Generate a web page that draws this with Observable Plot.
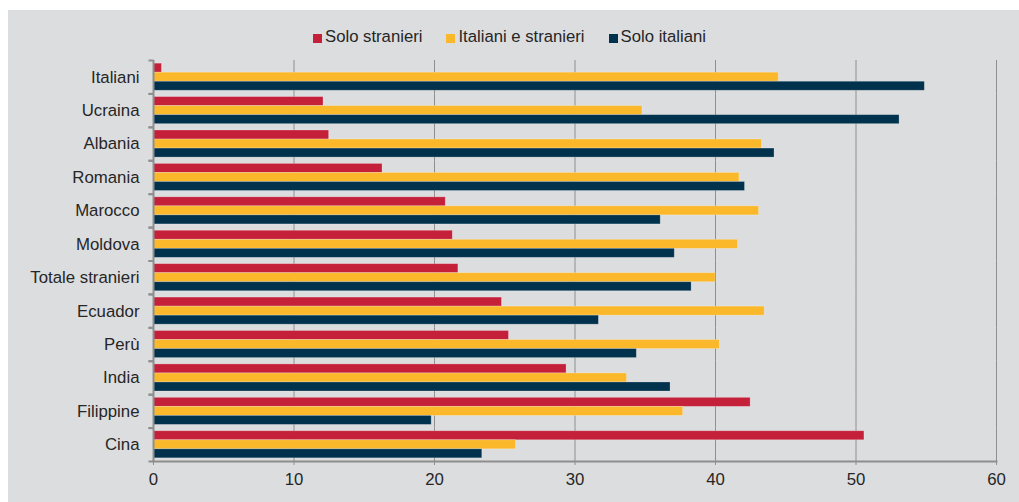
<!DOCTYPE html>
<html>
<head>
<meta charset="utf-8">
<script src="https://cdn.jsdelivr.net/npm/d3@7"></script>
<script src="https://cdn.jsdelivr.net/npm/@observablehq/plot@0.6"></script>
<style>
  html, body { margin: 0; padding: 0; background: #fff; }
  body { width: 1019px; height: 502px; position: relative; overflow: hidden; font-family: "Liberation Sans", Arial, sans-serif; }
  #panel { position: absolute; left: 8px; top: 10px; right: 0; bottom: 0; background: #dcdddf; }
  #legend { position: absolute; top: 17px; left: 0; width: 1003px; display: flex; justify-content: center; font-size: 16.7px; color: #262626; line-height: 20px; }
  #legend .item { display: flex; align-items: center; margin: 0 12px; }
  #legend .sw { width: 9px; height: 9px; margin-right: 3px; margin-top: 2px; }
  #chart { position: absolute; top: 40px; left: 0; }
</style>
</head>
<body>
<div id="panel">
  <div id="legend"></div>
  <div id="chart"></div>
</div>
<script>
const categories = ["Italiani", "Ucraina", "Albania", "Romania", "Marocco", "Moldova", "Totale stranieri", "Ecuador", "Perù", "India", "Filippine", "Cina"];
const seriesNames = ["Solo stranieri", "Italiani e stranieri", "Solo italiani"];
const seriesColors = ["#c4203a", "#fab82a", "#00314d"];
const soloStranieri     = [0.6, 12.1, 12.5, 16.3, 20.8, 21.3, 21.7, 24.8, 25.3, 29.4, 42.5, 50.6];
const italianiStranieri = [44.5, 34.8, 43.3, 41.7, 43.1, 41.6, 40.0, 43.5, 40.3, 33.7, 37.7, 25.8];
const soloItaliani      = [54.9, 53.1, 44.2, 42.1, 36.1, 37.1, 38.3, 31.7, 34.4, 36.8, 19.8, 23.4];
const xTicks = [0, 10, 20, 30, 40, 50, 60];

const seriesValues = [soloStranieri, italianiStranieri, soloItaliani];
const rows = [];
categories.forEach((c, i) => {
  seriesNames.forEach((s, j) => rows.push({country: c, series: s, value: seriesValues[j][i]}));
});

// legend
const legend = document.getElementById("legend");
seriesNames.forEach((s, j) => {
  const it = document.createElement("div");
  it.className = "item";
  const sw = document.createElement("span");
  sw.className = "sw";
  sw.style.background = seriesColors[j];
  const tx = document.createElement("span");
  tx.textContent = s;
  it.appendChild(sw); it.appendChild(tx);
  legend.appendChild(it);
});

const gray = "#8e8e8e";
const tickSym = { draw(ctx) { ctx.moveTo(-5, 0); ctx.lineTo(0, 0); } };

const chart = Plot.plot({
  width: 1011,
  height: 452,
  marginLeft: 145,
  marginRight: 23,
  marginTop: 10,
  marginBottom: 41,
  style: { background: "transparent", fontFamily: "'Liberation Sans', Arial, sans-serif", fontSize: "16.8px", color: "#262626" },
  x: { domain: [0, 60], ticks: xTicks },
  fy: { domain: categories, padding: 0, round: false },
  y: { domain: seriesNames, paddingInner: 0, paddingOuter: 0.35, round: false, axis: null },
  color: { domain: seriesNames, range: seriesColors },
  marks: [
    Plot.ruleX(xTicks, { stroke: gray, strokeWidth: 1 }),
    Plot.barX(rows, { fy: "country", y: "series", x: "value", fill: "series", stroke: "#ffffff", strokeOpacity: 0.3, strokeWidth: 0.8 }),
    Plot.ruleX([0], { stroke: gray, strokeWidth: 2 }),
    Plot.dot([0], { x: null, y: null, frameAnchor: "top-left", symbol: tickSym, stroke: gray, strokeWidth: 2 }),
    Plot.dot([0], { x: null, y: null, frameAnchor: "bottom-left", symbol: tickSym, stroke: gray, strokeWidth: 2 }),
    Plot.frame({ anchor: "bottom", facet: "super", stroke: gray, strokeWidth: 2, strokeOpacity: 1 }),
    Plot.axisX({ ticks: xTicks, tickSize: 4, tickPadding: 8, stroke: gray, fill: "#262626", label: null, tickFormat: d => String(d) }),
    Plot.axisFy({ anchor: "left", tickSize: 0, tickPadding: 14, label: null, fill: "#262626" })
  ]
});
document.getElementById("chart").appendChild(chart);
</script>
</body>
</html>
